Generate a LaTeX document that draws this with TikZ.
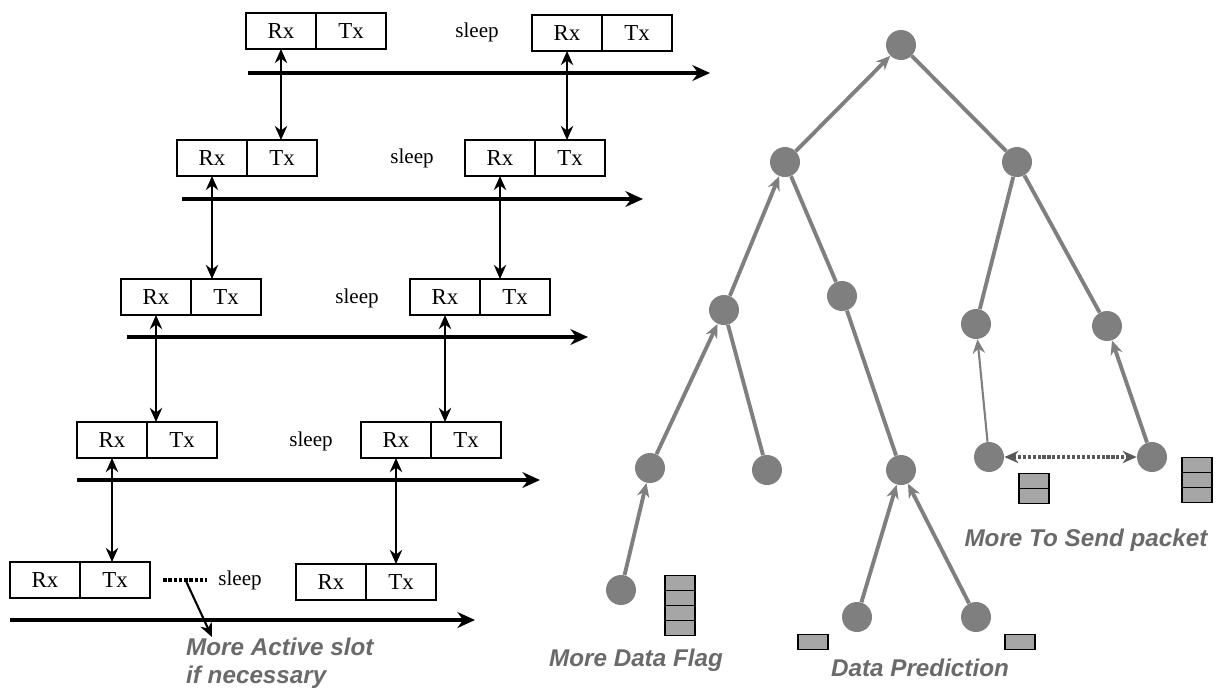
\documentclass[tikz,border=0pt]{standalone}
\usepackage{fontspec}
\setmainfont{Liberation Serif}
\newfontfamily\notefont{Liberation Sans}
\usetikzlibrary{positioning, arrows.meta}
\definecolor{treegray}{HTML}{7F7F7F}
\definecolor{notegray}{HTML}{6A6A6A}
\definecolor{cellgray}{HTML}{A6A6A6}

\begin{document}
\begin{tikzpicture}[x=0.02cm, y=-0.02cm, >={Stealth[length=8pt, width=7pt]}, node distance=0pt,
	slot/.style={draw, thick, minimum width=1.4cm, minimum height=0.72cm, inner sep=0pt, outer sep=0pt, font=\fontsize{13}{15}\selectfont},
	nap/.style={font=\fontsize{12}{14}\selectfont},
	timeline/.style={-{Stealth[length=10pt, width=9pt]}, line width=1.9pt},
	link/.style={<->, line width=1.5pt},
	mote/.style={circle, fill=treegray, minimum size=0.6cm, inner sep=0pt},
	hop/.style={treegray, line width=2.2pt},
	cell/.style={draw, fill=cellgray, thick, minimum width=0.6cm, minimum height=0.3cm, inner sep=0pt, outer sep=0pt},
	note/.style={text=notegray, font=\notefont\bfseries\itshape\fontsize{13.8}{16}\selectfont}
	]
	\useasboundingbox (0,0) rectangle (1222,691);

	%Slots, linha 1
	\node[slot]						(rx1a) at (281,31)	{Rx};
	\node[slot, right=of rx1a]		(tx1a)				{Tx};
	\node[nap]						(sl1) at (477,32)	{sleep};
	\node[slot]						(rx1b) at (567,33)	{Rx};
	\node[slot, right=of rx1b]		(tx1b)				{Tx};
	\coordinate (t1s) at (248,73);	\coordinate (t1e) at (710,73);

	%Slots, linha 2
	\node[slot]						(rx2a) at (212,158)	{Rx};
	\node[slot, right=of rx2a]		(tx2a)				{Tx};
	\node[nap]						(sl2) at (412,158)	{sleep};
	\node[slot]						(rx2b) at (500,158)	{Rx};
	\node[slot, right=of rx2b]		(tx2b)				{Tx};
	\coordinate (t2s) at (182,199);	\coordinate (t2e) at (643,199);

	%Slots, linha 3
	\node[slot]						(rx3a) at (156,297)	{Rx};
	\node[slot, right=of rx3a]		(tx3a)				{Tx};
	\node[nap]						(sl3) at (357,298)	{sleep};
	\node[slot]						(rx3b) at (445,297)	{Rx};
	\node[slot, right=of rx3b]		(tx3b)				{Tx};
	\coordinate (t3s) at (127,337);	\coordinate (t3e) at (588,337);

	%Slots, linha 4
	\node[slot]						(rx4a) at (112,440)	{Rx};
	\node[slot, right=of rx4a]		(tx4a)				{Tx};
	\node[nap]						(sl4) at (311,441)	{sleep};
	\node[slot]						(rx4b) at (396,440)	{Rx};
	\node[slot, right=of rx4b]		(tx4b)				{Tx};
	\coordinate (t4s) at (77,480);	\coordinate (t4e) at (540,480);

	%Slots, linha 5
	\node[slot]						(rx5a) at (45,580)	{Rx};
	\node[slot, right=of rx5a]		(tx5a)				{Tx};
	\node[nap]						(sl5) at (240,580)	{sleep};
	\node[slot]						(rx5b) at (331,582)	{Rx};
	\node[slot, right=of rx5b]		(tx5b)				{Tx};
	\coordinate (t5s) at (10,620);	\coordinate (t5e) at (475,620);

	\coordinate (d5s) at (163,580);
	\coordinate (d5m) at (186,581);
	\coordinate (d5e) at (212,637);
	\node[note, anchor=west, align=left] (act) at (180,663) {More Active slot\\if necessary};

	\draw[timeline] (t1s) -- (t1e);
	\draw[timeline] (t2s) -- (t2e);
	\draw[timeline] (t3s) -- (t3e);
	\draw[timeline] (t4s) -- (t4e);
	\draw[timeline] (t5s) -- (t5e);

	%Rx -> Tx entre linhas
	\draw[link] (rx1a.south) -- (rx1a.south |- tx2a.north);
	\draw[link] (rx1b.south) -- (rx1b.south |- tx2b.north);
	\draw[link] (rx2a.south) -- (rx2a.south |- tx3a.north);
	\draw[link] (rx2b.south) -- (rx2b.south |- tx3b.north);
	\draw[link] (rx3a.south) -- (rx3a.south |- tx4a.north);
	\draw[link] (rx3b.south) -- (rx3b.south |- tx4b.north);
	\draw[link] (rx4a.south) -- (rx4a.south |- tx5a.north);
	\draw[link] (rx4b.south) -- (rx4b.south |- tx5b.north);

	\draw[densely dotted, line width=2pt, shorten >=3pt] (d5s) -- (sl5.west);
	\draw[->, line width=1.2pt] (d5m) -- (d5e);

	%Arvore
	\node[mote] (root)	at (901,45)		{};
	\node[mote] (l1)	at (785,162)	{};
	\node[mote] (r1)	at (1017,162)	{};
	\node[mote] (ll)	at (724,310)	{};
	\node[mote] (lr)	at (842,296)	{};
	\node[mote] (rl)	at (976,324)	{};
	\node[mote] (rr)	at (1107,326)	{};
	\node[mote] (lll)	at (650,468)	{};
	\node[mote] (llr)	at (767,470)	{};
	\node[mote] (lrl)	at (901,470)	{};
	\node[mote] (rll)	at (989,457)	{};
	\node[mote] (rrl)	at (1152,457)	{};
	\node[mote] (leafa)	at (621,590)	{};
	\node[mote] (leafb)	at (857,617)	{};
	\node[mote] (leafc)	at (976,617)	{};

	\draw[hop, ->] (l1) -- (root);
	\draw[hop] (root) -- (r1);
	\draw[hop, ->] (ll) -- (l1);
	\draw[hop] (l1) -- (lr);
	\draw[hop, ->] (lll) -- (ll);
	\draw[hop] (ll) -- (llr);
	\draw[hop] (lr) -- (lrl);
	\draw[hop, ->] (leafa) -- (lll);
	\draw[hop, ->] (leafb) -- (lrl);
	\draw[hop, ->] (leafc) -- (lrl);
	\draw[hop] (r1) -- (rl);
	\draw[hop] (r1) -- (rr);
	\draw[hop, ->, line width=1.2pt] (rll) -- (rl);
	\draw[hop, ->] (rrl) -- (rr);
	\draw[<->, densely dotted, line width=1.8pt, treegray!70!black] (rll) -- (rrl);

	%Filas
	\node[cell]					(flag1) at (680,583)	{};
	\node[cell, below=of flag1]	(flag2)					{};
	\node[cell, below=of flag2]	(flag3)					{};
	\node[cell, below=of flag3]	(flag4)					{};
	\node[cell]					(preda) at (813,642)	{};
	\node[cell]					(predb) at (1020,642)	{};
	\node[cell]					(senda1) at (1034,481)	{};
	\node[cell, below=of senda1] (senda2)				{};
	\node[cell]					(sendb1) at (1197,465)	{};
	\node[cell, below=of sendb1] (sendb2)				{};
	\node[cell, below=of sendb2] (sendb3)				{};

	\node[note] (flagtxt) at (636,660)	{More Data Flag};
	\node[note] (predtxt) at (920,668)	{Data Prediction};
	\node[note] (sendtxt) at (1086,540)	{More To Send packet};
\end{tikzpicture}
\end{document}
